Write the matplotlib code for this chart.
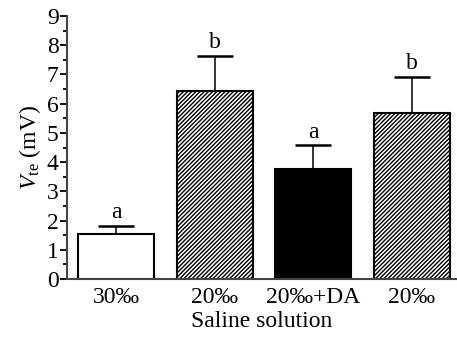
import matplotlib.pyplot as plt
import numpy as np

plt.rcParams['font.family'] = ['Liberation Serif', 'DejaVu Serif']
plt.rcParams['mathtext.fontset'] = 'custom'
plt.rcParams['mathtext.rm'] = 'Liberation Serif'
plt.rcParams['mathtext.it'] = 'Liberation Serif:italic'
plt.rcParams['hatch.linewidth'] = 1.0

labels = ['30‰', '20‰', '20‰+DA', '20‰']
means = [1.53, 6.45, 3.77, 5.67]
errors = [0.30, 1.19, 0.80, 1.25]
letters = ['a', 'b', 'a', 'b']
fills = ['white', 'white', 'black', 'white']
hatches = ['', '////////', '', '////////']

fs = 17

fig = plt.figure(figsize=(4.57, 3.37), dpi=100)
ax = fig.add_axes([0.1466, 0.172, 0.8534, 0.7805])

x = np.arange(len(labels))
bars = ax.bar(x, means, width=0.77, color=fills, edgecolor='black', linewidth=1.5, zorder=2)
for b, h in zip(bars, hatches):
    b.set_hatch(h)

ax.errorbar(x, means, yerr=[np.zeros(len(means)), errors], fmt='none', ecolor='black',
            elinewidth=1.1, capsize=13, capthick=1.8, zorder=1)

for xi, m, e, t in zip(x, means, errors, letters):
    ax.annotate(t, (xi, m + e), xytext=(0, 2), textcoords='offset points',
                ha='center', va='bottom', fontsize=fs)

ax.set_xlim(-0.5, 3.46)
ax.set_ylim(0, 9)
ax.set_yticks(range(0, 10))
ax.set_yticks(np.arange(0.5, 9, 1), minor=True)
ax.set_xticks(x)
ax.set_xticklabels(labels)
ax.tick_params(axis='y', which='major', length=5, width=1.3, labelsize=fs, pad=1)
ax.tick_params(axis='y', which='minor', length=3, width=1.3)
ax.tick_params(axis='x', length=0, labelsize=fs, pad=6)

for s in ['top', 'right']:
    ax.spines[s].set_visible(False)
for s in ['left', 'bottom']:
    ax.spines[s].set_linewidth(1.5)
    ax.spines[s].set_color('#444444')

ax.set_ylabel(r'$V_{\rm te}$ (mV)', fontsize=fs, labelpad=3)
ax.set_xlabel('Saline solution', fontsize=fs, labelpad=2)

fig.savefig('out.png', dpi=100)
